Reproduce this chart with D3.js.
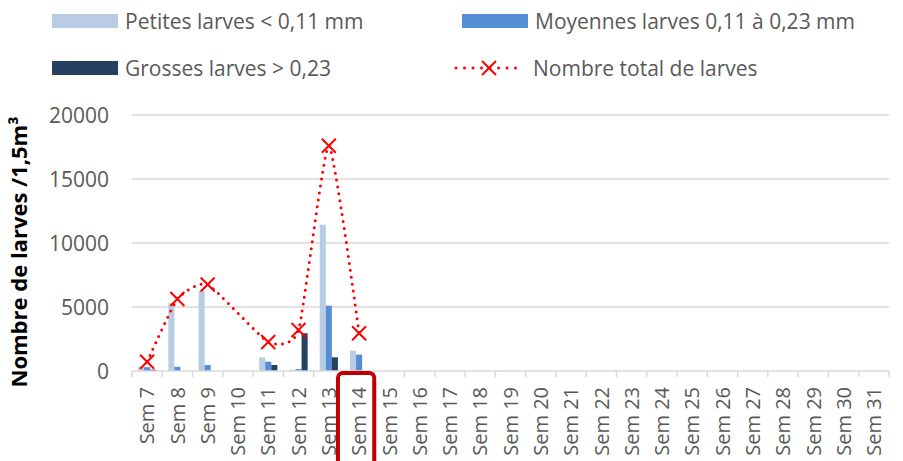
<!DOCTYPE html>
<html>
<head>
<meta charset="utf-8">
<script src="https://cdnjs.cloudflare.com/ajax/libs/d3/7.8.5/d3.min.js"></script>
<style>
body { margin: 0; background: #fff; }
text { font-family: "Open Sans", sans-serif; }
</style>
</head>
<body>
<svg width="903" height="461"></svg>
<script>
var svg = d3.select("svg"),
    width = +svg.attr("width"),
    height = +svg.attr("height");

// data
var weeks = d3.range(7, 32).map(function(d) { return "Sem " + d; });
var petites  = [300, 5300, 6270, null, 1070, 100, 11430, 1590];
var moyennes = [300, 330, 470, null, 730, 150, 5100, 1280];
var grosses  = [100, 0, 0, null, 470, 2950, 1070, 0];
var total    = [720, 5630, 6760, null, 2260, 3200, 17600, 2950];
var yTicks = [0, 5000, 10000, 15000, 20000];

var seriesNames = ["Petites larves < 0,11 mm", "Moyennes larves 0,11 à 0,23 mm", "Grosses larves > 0,23"];
var seriesColors = ["#b8cce4", "#558ed5", "#254061"];
var series = [petites, moyennes, grosses];

var x = d3.scaleBand().domain(weeks).range([132, 889]);
var xs = d3.scaleBand().domain([0, 1, 2]).range([0, x.bandwidth()]).paddingOuter(1);
var y = d3.scaleLinear().domain([0, 20000]).range([371, 115]);

var grey = "#595959";

// gridlines
svg.append("g").selectAll("line")
  .data(yTicks.slice(1))
  .enter().append("line")
    .attr("x1", x.range()[0]).attr("x2", x.range()[1])
    .attr("y1", function(d) { return y(d); }).attr("y2", function(d) { return y(d); })
    .attr("stroke", "#d9d9d9").attr("stroke-width", 1.5);

// y axis labels
svg.append("g").selectAll("text")
  .data(yTicks)
  .enter().append("text")
    .attr("x", 109)
    .attr("y", function(d) { return y(d); })
    .attr("dy", "0.36em")
    .attr("text-anchor", "end")
    .attr("fill", grey)
    .style("font-size", "21px")
    .text(function(d) { return d; });

svg.append("text")
  .attr("transform", "translate(27,252) rotate(-90)")
  .attr("text-anchor", "middle")
  .attr("font-weight", "bold")
  .attr("fill", "#000")
  .style("font-size", "22px")
  .text("Nombre de larves /1,5m³");

// bars
series.forEach(function(s, i) {
  svg.append("g").selectAll("rect")
    .data(s.map(function(v, j) { return {w: weeks[j], v: v}; }).filter(function(d) { return d.v; }))
    .enter().append("rect")
      .attr("x", function(d) { return x(d.w) + xs(i); })
      .attr("width", xs.bandwidth())
      .attr("y", function(d) { return y(d.v); })
      .attr("height", function(d) { return y(0) - y(d.v); })
      .attr("fill", seriesColors[i]);
});

// x axis
var xAxis = svg.append("g").attr("transform", "translate(0," + y(0) + ")");
xAxis.append("line")
  .attr("x1", x.range()[0]).attr("x2", x.range()[1])
  .attr("stroke", "#d9d9d9").attr("stroke-width", 1.5);
xAxis.selectAll(".tk")
  .data(weeks.concat(["end"]))
  .enter().append("line")
    .attr("x1", function(d, i) { return x.range()[0] + i * x.step(); })
    .attr("x2", function(d, i) { return x.range()[0] + i * x.step(); })
    .attr("y1", 0).attr("y2", 6)
    .attr("stroke", "#d9d9d9").attr("stroke-width", 1.5);
xAxis.selectAll("text")
  .data(weeks)
  .enter().append("text")
    .attr("transform", function(d) { return "translate(" + (x(d) + x.bandwidth() / 2) + ",16) rotate(-90)"; })
    .attr("text-anchor", "end")
    .attr("dy", "0.36em")
    .attr("fill", grey)
    .style("font-size", "20px")
    .text(function(d) { return d; });

// total line
var pts = total.map(function(v, j) { return {w: weeks[j], v: v}; }).filter(function(d) { return d.v != null; });
var line = d3.line()
  .x(function(d) { return x(d.w) + x.bandwidth() / 2; })
  .y(function(d) { return y(d.v); })
  .curve(d3.curveCardinal.tension(0.5));
svg.append("path")
  .datum(pts)
  .attr("d", line)
  .attr("fill", "none")
  .attr("stroke", "#ff0000")
  .attr("stroke-width", 3)
  .attr("stroke-linecap", "round")
  .attr("stroke-dasharray", "0 7");

function cross(g, cx, cy, r) {
  g.append("path")
    .attr("d", "M" + (cx - r) + "," + (cy - r) + "L" + (cx + r) + "," + (cy + r) +
               "M" + (cx - r) + "," + (cy + r) + "L" + (cx + r) + "," + (cy - r))
    .attr("stroke", "#ff0000").attr("stroke-width", 2).attr("fill", "none");
}
var mk = svg.append("g");
pts.forEach(function(d) { cross(mk, x(d.w) + x.bandwidth() / 2, y(d.v), 7); });

// highlight around Sem 14
svg.append("rect")
  .attr("x", x("Sem 14") - 6).attr("y", 373)
  .attr("width", x.bandwidth() + 6).attr("height", 100)
  .attr("rx", 5)
  .attr("fill", "none")
  .attr("stroke", "#c00000")
  .attr("stroke-width", 4);

// legend
var leg = svg.append("g");
var legItems = [
  {name: seriesNames[0], color: seriesColors[0], lx: 52, ly: 21},
  {name: seriesNames[1], color: seriesColors[1], lx: 462, ly: 21},
  {name: seriesNames[2], color: seriesColors[2], lx: 52, ly: 68}
];
legItems.forEach(function(d) {
  leg.append("rect").attr("x", d.lx).attr("y", d.ly - 7).attr("width", 66).attr("height", 14).attr("fill", d.color);
  leg.append("text").attr("x", d.lx + 73).attr("y", d.ly).attr("dy", "0.36em")
    .attr("fill", grey).style("font-size", "21px").text(d.name);
});
leg.append("line").attr("x1", 456).attr("x2", 524).attr("y1", 68).attr("y2", 68)
  .attr("stroke", "#ff0000").attr("stroke-width", 3).attr("stroke-linecap", "round").attr("stroke-dasharray", "0 8.5");
cross(leg, 489, 68, 7);
leg.append("text").attr("x", 533).attr("y", 68).attr("dy", "0.36em")
  .attr("fill", grey).style("font-size", "21px").text("Nombre total de larves");
</script>
</body>
</html>
